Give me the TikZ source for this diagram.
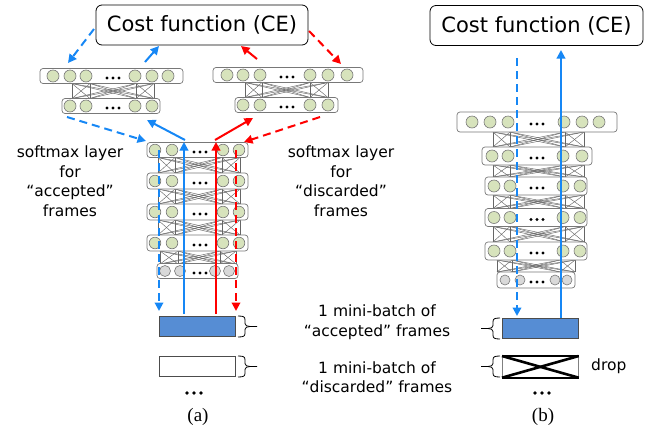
\documentclass[tikz,border=0pt]{standalone}
\usepackage{fontspec}
\setmainfont{DejaVu Sans}
\newfontfamily\capfont{Liberation Serif}
\usetikzlibrary{arrows.meta}
\definecolor{nodegreen}{RGB}{215,227,188}
\definecolor{nodegray}{RGB}{217,217,217}
\definecolor{edgegray}{RGB}{120,120,120}
\definecolor{arrblue}{RGB}{22,135,245}
\definecolor{arrred}{RGB}{255,0,0}
\definecolor{batchblue}{RGB}{86,141,212}
\tikzset{
  layerbox/.style={draw=edgegray, fill=white, rounded corners=3pt, line width=0.7pt},
  neuron/.style={draw=edgegray, line width=0.6pt},
  conn/.style={draw=black!60, line width=0.45pt},
  arr/.style={line width=2pt, -{Triangle[length=8.5pt,width=8.5pt]}},
  dsh/.style={dash pattern=on 8pt off 5pt},
  costbox/.style={draw, rounded corners=6pt, line width=0.8pt, minimum width=212pt, minimum height=40pt, inner sep=0pt, font=\fontsize{21}{25}\selectfont},
  lbl/.style={align=center, font=\fontsize{15.5}{19.5}\selectfont, inner sep=0pt},
  sublbl/.style={font=\capfont\fontsize{19}{21}\selectfont, inner sep=0pt},
  batch/.style={draw=black!70, line width=0.8pt},
}
% layer: x1, x2, yc, half height, radius, circle xs, dots x, fill colour
\newcommand\nnlayer[8]{%
  \draw[layerbox] (#1,#3-#4) rectangle (#2,#3+#4);
  \foreach \cx in {#6} \draw[neuron, fill=#8] (\cx,#3) circle (#5);
  \foreach \dx in {-6,0,6} \fill (#7+\dx,#3+2) circle (1.6);
}
% connections: ytop, ybot, xs
\newcommand\nnconn[3]{%
  \foreach \ca in {#3} \foreach \cb in {#3} \draw[conn] (\ca,#1) -- (\cb,#2);
}
% right brace: x, ytop, ybot
\newcommand\rbr[3]{%
  \pgfmathsetmacro\ym{(#2+#3)/2}
  \draw[line width=0.8pt] (#1,#2) .. controls (#1+6,#2) and (#1+7,#2+1) .. (#1+7,#2+4) -- (#1+7,\ym-3)
     .. controls (#1+7,\ym-1) and (#1+9,\ym) .. (#1+12,\ym) -- (#1+19,\ym);
  \draw[line width=0.8pt] (#1+12,\ym) .. controls (#1+9,\ym) and (#1+7,\ym+1) .. (#1+7,\ym+3) -- (#1+7,#3-4)
     .. controls (#1+7,#3-1) and (#1+6,#3) .. (#1,#3);
}
\newcommand\lbr[3]{%
  \pgfmathsetmacro\ym{(#2+#3)/2}
  \draw[line width=0.8pt] (#1,#2) .. controls (#1-6,#2) and (#1-7,#2+1) .. (#1-7,#2+4) -- (#1-7,\ym-3)
     .. controls (#1-7,\ym-1) and (#1-9,\ym) .. (#1-12,\ym) -- (#1-19,\ym);
  \draw[line width=0.8pt] (#1-12,\ym) .. controls (#1-9,\ym) and (#1-7,\ym+1) .. (#1-7,\ym+3) -- (#1-7,#3-4)
     .. controls (#1-7,#3-1) and (#1-6,#3) .. (#1,#3);
}
\begin{document}
\begin{tikzpicture}[x=1pt, y=-1pt]
\useasboundingbox (0,0) rectangle (645,432);

% ---------- cost function boxes ----------
\node[costbox] (costA) at (202,25) {Cost function (CE)};
\node[costbox, minimum width=213pt] (costB) at (536.5,25.5) {Cost function (CE)};

% ---------- (a) upper left softmax net ----------
\nnconn{83.5}{98.5}{72,90,136,154}
\nnlayer{40}{183}{76}{7.5}{6}{53,70,86,135,152,168}{113}{nodegreen}
\nnlayer{62}{160}{106}{7.5}{6}{70,86,135,152}{113}{nodegreen}

% ---------- (a) upper right softmax net ----------
\nnconn{82.5}{97.5}{245,262,310,328}
\nnlayer{213}{363}{75}{7.5}{6}{227,243,260,310,328,347}{287}{nodegreen}
\nnlayer{235}{338}{105}{7.5}{6}{243,260,310,328}{287}{nodegreen}

% ---------- (a) main stack ----------
\nnconn{157.5}{173}{158,175,222,240}
\nnconn{189}{204}{158,175,222,240}
\nnconn{220}{235}{158,175,222,240}
\nnconn{251}{264}{160,178,220,236}
\nnlayer{147}{248}{150}{7.5}{5.8}{155,172,223,239}{200}{nodegreen}
\nnlayer{147}{248}{181}{8}{5.8}{155,172,223,239}{200}{nodegreen}
\nnlayer{147}{248}{212}{8}{5.8}{155,172,223,239}{200}{nodegreen}
\nnlayer{147}{248}{243}{8}{5.8}{155,172,223,239}{200}{nodegreen}
\nnlayer{157}{238}{271}{7.5}{5.5}{165,180,215,229}{200}{nodegray}

% ---------- (b) stack ----------
\nnconn{132}{147}{493,510,565,584}
\nnconn{165}{177}{493,510,565,584}
\nnconn{195}{208.5}{493,510,565,584}
\nnconn{226.5}{242}{493,510,565,584}
\nnconn{260}{272}{497,512,560,575}
\nnlayer{457}{617}{122}{10}{6}{472,490,508,564,582,599}{537}{nodegreen}
\nnlayer{482}{592}{156}{9}{6}{492,508,563,582}{537}{nodegreen}
\nnlayer{485}{587}{186}{9}{6}{494,510,563,580}{537}{nodegreen}
\nnlayer{485}{587}{217.5}{9}{6}{494,510,563,580}{537}{nodegreen}
\nnlayer{485}{587}{251}{9}{6}{494,510,563,580}{537}{nodegreen}
\nnlayer{497}{575}{280}{8}{5}{505,520,555,567}{537}{nodegray}

% ---------- mini-batch boxes ----------
\node[batch, fill=batchblue, minimum width=76pt, minimum height=20pt, inner sep=0pt, anchor=north west] (accA) at (159,316) {};
\node[batch, fill=white, minimum width=76pt, minimum height=20pt, inner sep=0pt, anchor=north west] (disA) at (159,356) {};
\node[batch, fill=batchblue, minimum width=76pt, minimum height=20pt, inner sep=0pt, anchor=north west] (accB) at (502,318) {};
\node[draw=black!50, line width=0.7pt, minimum width=76pt, minimum height=21pt, inner sep=0pt, anchor=north west] (disB) at (502,356) {};
\draw[line width=2.6pt] (disB.north west) -- (disB.south east);
\draw[line width=2.6pt] (disB.south west) -- (disB.north east);
\draw[line width=2.4pt] (disB.north west) -- (disB.north east);
\draw[line width=2.4pt] (disB.south west) -- (disB.south east);

\rbr{238}{316}{337}
\rbr{238}{356}{377}
\lbr{500}{318}{339}
\lbr{500}{356}{377}

% ---------- labels ----------
\node[lbl] (smA) at (70,181) {softmax layer\\for\\“accepted”\\frames};
\node[lbl] (smD) at (341,181) {softmax layer\\for\\“discarded”\\frames};
\node[lbl] (mbA) at (377,322) {1 mini-batch of\\“accepted” frames};
\node[lbl] (mbD) at (377,377) {1 mini-batch of\\“discarded” frames};
\node[lbl, anchor=west] (drop) at (591,366) {drop};
\node[sublbl] (capA) at (198,417) {(a)};
\node[sublbl] (capB) at (543,417) {(b)};
\foreach \dx in {-7,0,7} \fill (194+\dx,393) circle (1.9);
\foreach \dx in {-7,0,7} \fill (542+\dx,393) circle (1.9);

% ---------- arrow end coordinates (a) ----------
\coordinate (a1s) at (94,29);  \coordinate (a1e) at (68,63);
\coordinate (a2s) at (145,62); \coordinate (a2e) at (159,46);
\coordinate (a3s) at (257,59); \coordinate (a3e) at (241,46);
\coordinate (a4s) at (309,31); \coordinate (a4e) at (341,64);
\coordinate (d1s) at (67,117); \coordinate (d1e) at (146,141);
\coordinate (d2s) at (185,140); \coordinate (d2e) at (147,120);
\coordinate (d3s) at (215,140); \coordinate (d3e) at (253,118);
\coordinate (d4s) at (320,117); \coordinate (d4e) at (244,142);
\coordinate (v1s) at (159,150); \coordinate (v1e) at (159,311);
\coordinate (v2s) at (184,314); \coordinate (v2e) at (184,142);
\coordinate (v3s) at (216,314); \coordinate (v3e) at (216,142);
\coordinate (v4s) at (236,150); \coordinate (v4e) at (236,311);
% (b)
\coordinate (b1s) at (517,58);  \coordinate (b1e) at (517,316);
\coordinate (b2s) at (561,318); \coordinate (b2e) at (561,50);

\draw[arr, dsh, arrblue] (a1s) -- (a1e);
\draw[arr, arrblue] (a2s) -- (a2e);
\draw[arr, arrred] (a3s) -- (a3e);
\draw[arr, dsh, arrred] (a4s) -- (a4e);
\draw[arr, dsh, arrblue] (d1s) -- (d1e);
\draw[arr, arrblue] (d2s) -- (d2e);
\draw[arr, arrred] (d3s) -- (d3e);
\draw[arr, dsh, arrred] (d4s) -- (d4e);
\draw[arr, dsh, arrblue] (v1s) -- (v1e);
\draw[arr, arrblue] (v2s) -- (v2e);
\draw[arr, arrred] (v3s) -- (v3e);
\draw[arr, dsh, arrred] (v4s) -- (v4e);
\draw[arr, dsh, arrblue] (b1s) -- (b1e);
\draw[arr, arrblue] (b2s) -- (b2e);
\end{tikzpicture}
\end{document}
